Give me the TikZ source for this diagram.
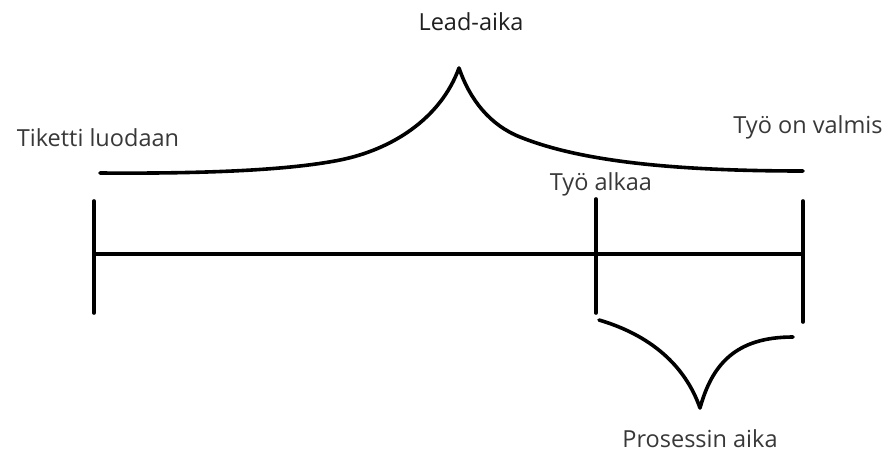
\documentclass[tikz,border=0pt]{standalone}
\usepackage{fontspec}
\setmainfont{Open Sans}
\begin{document}
\begin{tikzpicture}[x=1pt,y=-1pt,
  stroke/.style={line width=3.6pt,line cap=round,line join=round,black},
  lbl/.style={text=black!78,font=\fontsize{23.5}{27}\selectfont,inner sep=0pt}]
\useasboundingbox (0,0) rectangle (891,452);
% labels
\node[lbl,text=black!88] (lead) at (471,22) {Lead-aika};
\node[lbl] (tiketti) at (98,138) {Tiketti luodaan};
\node[lbl] (valmis) at (808,127) {Työ on valmis};
\node[lbl] (alkaa) at (601,184) {Työ alkaa};
\node[lbl] (prosessi) at (700,439) {Prosessin aika};
% coordinates
\coordinate (lt) at (94,201);
\coordinate (lb) at (94,313);
\coordinate (lm) at (94,254);
\coordinate (mt) at (596,199);
\coordinate (mb) at (596,313);
\coordinate (rt) at (803,201);
\coordinate (rb) at (803,322);
\coordinate (rm) at (803,254);
\coordinate (bl) at (100,173);
\coordinate (peak) at (459,68);
\coordinate (br) at (803,171);
\coordinate (pl) at (599,320);
\coordinate (tip) at (700,408);
\coordinate (pr) at (793,337);
% timeline
\draw[stroke] (lt) -- (lb);
\draw[stroke] (mt) -- (mb);
\draw[stroke] (rt) -- (rb);
\draw[stroke] (lm) -- (rm);
% lead brace
\draw[stroke] (bl) .. controls (230,174) and (300,168) .. (340,160)
  .. controls (390,150) and (440,120) .. (peak)
  .. controls (470,100) and (490,125) .. (520,137)
  .. controls (570,157) and (650,171) .. (br);
% process brace
\draw[stroke] (pl) .. controls (650,335) and (685,365) .. (tip)
  .. controls (712,365) and (735,337) .. (pr);
\end{tikzpicture}
\end{document}
